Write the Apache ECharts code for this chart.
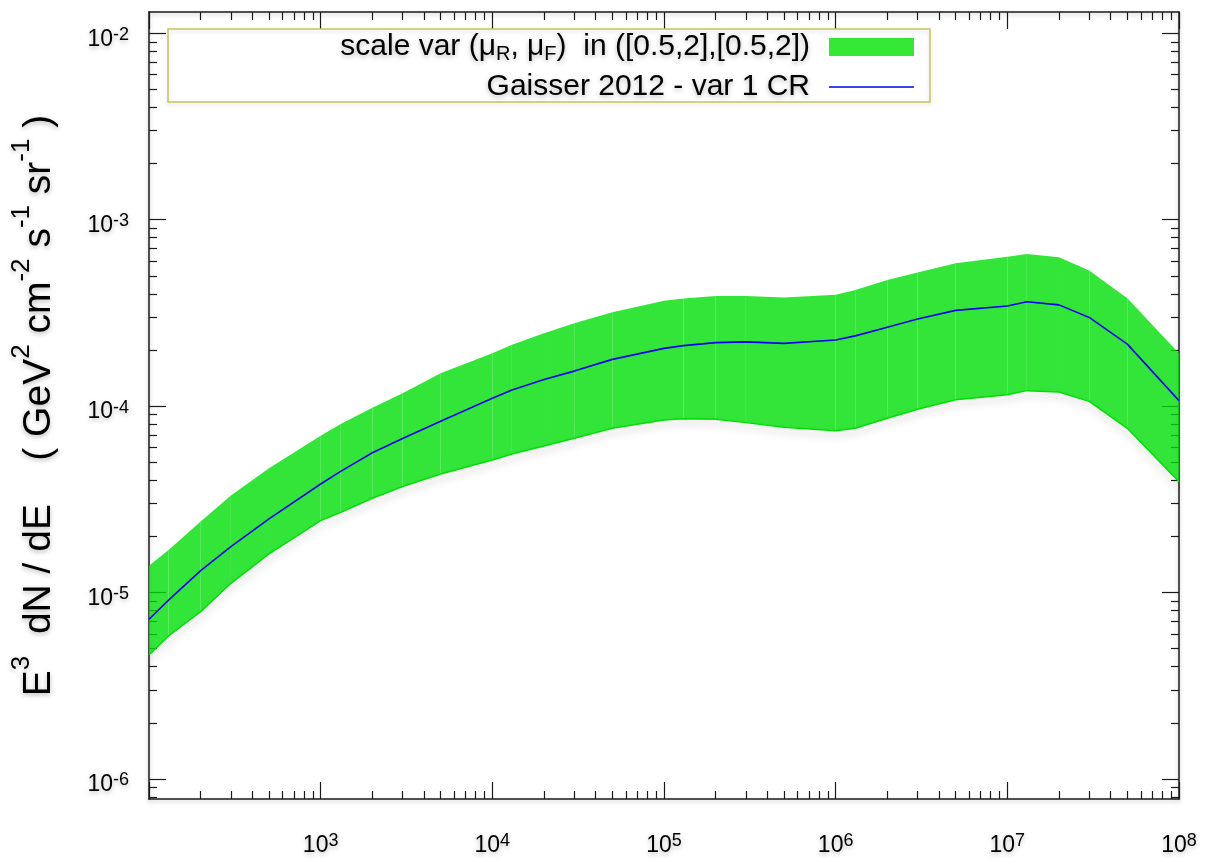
<!DOCTYPE html>
<html>
<head>
<meta charset="utf-8">
<script src="https://cdn.jsdelivr.net/npm/echarts@6/dist/echarts.min.js"></script>
<style>
  html, body { margin: 0; padding: 0; background: #ffffff; }
  #chart { width: 1206px; height: 867px; }
</style>
</head>
<body>
<div id="chart"></div>
<script>
// Energy grid (GeV) on which the flux was evaluated
const energy = [
  1e2, 1.3e2, 2e2, 3e2, 5e2,
  1e3, 1.3e3, 2e3, 3e3, 5e3,
  1e4, 1.3e4, 2e4, 3e4, 5e4,
  1e5, 1.3e5, 2e5, 3e5, 5e5,
  1e6, 1.3e6, 2e6, 3e6, 5e6,
  1e7, 1.3e7, 2e7, 3e7, 5e7,
  1e8
];

// E^3 dN/dE, central scale choice (Gaisser 2012, variant 1)
const central = [
  7.18e-6, 9.1e-6, 1.31e-5, 1.76e-5, 2.48e-5,
  3.82e-5, 4.45e-5, 5.62e-5, 6.7e-5, 8.3e-5,
  1.10e-4, 1.22e-4, 1.39e-4, 1.54e-4, 1.78e-4,
  2.04e-4, 2.11e-4, 2.19e-4, 2.21e-4, 2.17e-4,
  2.26e-4, 2.38e-4, 2.65e-4, 2.93e-4, 3.26e-4,
  3.44e-4, 3.63e-4, 3.49e-4, 2.99e-4, 2.15e-4,
  1.07e-4
];

// Envelope of the renormalisation / factorisation scale variation
const bandUpper = [
  1.39e-5, 1.69e-5, 2.40e-5, 3.31e-5, 4.64e-5,
  6.92e-5, 7.98e-5, 9.80e-5, 1.17e-4, 1.50e-4,
  1.92e-4, 2.13e-4, 2.46e-4, 2.78e-4, 3.19e-4,
  3.67e-4, 3.78e-4, 3.90e-4, 3.90e-4, 3.82e-4,
  3.95e-4, 4.20e-4, 4.75e-4, 5.20e-4, 5.84e-4,
  6.33e-4, 6.55e-4, 6.28e-4, 5.33e-4, 3.79e-4,
  1.92e-4
];
const bandLower = [
  4.62e-6, 5.84e-6, 7.89e-6, 1.12e-5, 1.61e-5,
  2.43e-5, 2.68e-5, 3.20e-5, 3.70e-5, 4.32e-5,
  5.14e-5, 5.53e-5, 6.11e-5, 6.72e-5, 7.60e-5,
  8.42e-5, 8.56e-5, 8.49e-5, 8.15e-5, 7.69e-5,
  7.38e-5, 7.60e-5, 8.61e-5, 9.61e-5, 1.08e-4,
  1.15e-4, 1.21e-4, 1.19e-4, 1.06e-4, 7.60e-5,
  3.93e-5
];

// Axis ranges and ticks
const xRange = [1e2, 1e8];
const yRange = [7.8e-7, 1.3e-2];
const xMajorTicks = [1e2, 1e3, 1e4, 1e5, 1e6, 1e7, 1e8];
const xTickLabels = [1e3, 1e4, 1e5, 1e6, 1e7, 1e8];
const yMajorTicks = [1e-6, 1e-5, 1e-4, 1e-3, 1e-2];
const yTickLabels = [1e-6, 1e-5, 1e-4, 1e-3, 1e-2];

const bandName = 'scale var (μR, μF)  in ([0.5,2],[0.5,2])';
const lineName = 'Gaisser 2012 - var 1 CR';

// 2..9 x 10^k minor ticks for each decade in [loExp, hiExp)
function decadeMinors(loExp, hiExp) {
  const out = [];
  for (let k = loExp; k < hiExp; k++) {
    for (let m = 2; m <= 9; m++) out.push(+(m * Math.pow(10, k)).toPrecision(3));
  }
  return out;
}
const xMinorTicks = decadeMinors(2, 8);
const yMinorTicks = decadeMinors(-7, -1);

// One quad per energy interval for the shaded envelope
const bandSegments = [];
for (let i = 0; i < energy.length - 1; i++) {
  bandSegments.push([energy[i], bandLower[i], bandUpper[i],
                     energy[i + 1], bandLower[i + 1], bandUpper[i + 1]]);
}
const centralPoints = energy.map((e, i) => [e, central[i]]);
const lowerEdgePoints = energy.map((e, i) => [e, bandLower[i]]);

const FONT = '"Liberation Sans", Arial, Helvetica, sans-serif';
const BAND_FILL = 'rgb(0,222,6)';
const shadow = {
  textShadowColor: 'rgba(0,0,0,0.28)',
  textShadowBlur: 5,
  textShadowOffsetY: 2
};
const frameLine = {
  color: '#1a1a1a', width: 1.5,
  shadowColor: 'rgba(0,0,0,0.25)', shadowBlur: 4, shadowOffsetY: 2
};

function powerLabel(v) {
  return '{b|10}{sup|' + Math.round(Math.log10(v)) + '}';
}
const labelRich = {
  b:   { fontSize: 23, lineHeight: 25, verticalAlign: 'bottom', fontFamily: FONT, color: '#000', ...shadow },
  sup: { fontSize: 18, lineHeight: 18, verticalAlign: 'top', fontFamily: FONT, color: '#000', ...shadow }
};

function xAxisDef(position, ticks, len, withLine, labels) {
  return {
    type: 'log', logBase: 10, position: position,
    min: xRange[0], max: xRange[1],
    axisLine: { show: withLine, lineStyle: frameLine },
    axisTick: { show: true, inside: true, length: len, customValues: ticks,
                lineStyle: { color: '#1a1a1a', width: 1.2 } },
    axisLabel: labels ? {
      show: true, customValues: labels, margin: 33,
      formatter: powerLabel, rich: labelRich
    } : { show: false },
    splitLine: { show: false }, minorTick: { show: false }
  };
}
function yAxisDef(position, ticks, len, withLine, labels, extra) {
  return Object.assign({
    type: 'log', logBase: 10, position: position,
    min: yRange[0], max: yRange[1],
    axisLine: { show: withLine, lineStyle: frameLine },
    axisTick: { show: true, inside: true, length: len, customValues: ticks,
                lineStyle: { color: '#1a1a1a', width: 1.2 } },
    axisLabel: labels ? {
      show: true, customValues: labels, margin: 20, padding: [10, 0, 0, 0],
      formatter: powerLabel, rich: labelRich
    } : { show: false },
    splitLine: { show: false }, minorTick: { show: false }
  }, extra || {});
}

const chart = echarts.init(document.getElementById('chart'), null, { renderer: 'canvas' });

chart.setOption({
  backgroundColor: '#ffffff',
  animation: false,
  grid: { left: 149, right: 27, top: 12, bottom: 68, outerBoundsMode: 'none', containLabel: false },
  graphic: [{
    type: 'rect', z: 1,
    shape: { x: 168, y: 29, width: 762, height: 73 },
    style: { fill: 'rgba(255,255,255,0)', stroke: '#c9c35b', lineWidth: 1.5,
             shadowColor: 'rgba(0,0,0,0.15)', shadowBlur: 4, shadowOffsetY: 2 }
  }],
  legend: {
    orient: 'vertical', align: 'right',
    right: 292, top: 32,
    itemWidth: 85, itemHeight: 18, itemGap: 8,
    padding: 0, selectedMode: false,
    data: [
      { name: bandName, icon: 'rect', itemStyle: { color: '#36e836' } },
      { name: lineName, icon: 'path://M0,0H85V1.6H0Z', itemStyle: { color: '#0000f0' } }
    ],
    formatter: function (name) {
      if (name === bandName) {
        return 'scale var (μ{s|R}, μ{s|F})  in ([0.5,2],[0.5,2])';
      }
      return name;
    },
    textStyle: {
      fontFamily: FONT, fontSize: 30, color: '#000', padding: [0, 14, 0, 0], ...shadow,
      rich: {
        s: { fontFamily: FONT, fontSize: 20, lineHeight: 34, verticalAlign: 'bottom', color: '#000', ...shadow }
      }
    }
  },
  xAxis: [
    xAxisDef('bottom', xMajorTicks, 17, true, xTickLabels),
    xAxisDef('bottom', xMinorTicks, 8, false, null),
    xAxisDef('top', xMajorTicks, 17, true, null),
    xAxisDef('top', xMinorTicks, 8, false, null)
  ],
  yAxis: [
    yAxisDef('left', yMajorTicks, 17, true, yTickLabels, {
      name: '{t|E}{u|3}{t|  dN / dE    ( GeV}{u|2}{t| cm}{u|-2}{t| s}{u|-1}{t| sr}{u|-1}{t| )}',
      nameLocation: 'middle', nameRotate: 90, nameGap: 90,
      nameTextStyle: {
        rich: {
          t: { fontFamily: FONT, fontSize: 39, lineHeight: 50, verticalAlign: 'bottom', color: '#000', ...shadow },
          u: { fontFamily: FONT, fontSize: 26, lineHeight: 26, verticalAlign: 'top', color: '#000', ...shadow }
        }
      }
    }),
    yAxisDef('left', yMinorTicks, 8, false, null),
    yAxisDef('right', yMajorTicks, 17, true, null),
    yAxisDef('right', yMinorTicks, 8, false, null)
  ],
  series: [
    {
      // soft drop shadow along the lower edge of the envelope
      name: 'envelope-shadow',
      type: 'line',
      data: lowerEdgePoints,
      symbol: 'none', silent: true, z: 1,
      lineStyle: { color: BAND_FILL, width: 1.5, shadowColor: 'rgba(0,0,0,0.35)', shadowBlur: 8, shadowOffsetY: 4 }
    },
    {
      name: bandName,
      type: 'custom',
      xAxisIndex: 0, yAxisIndex: 0,
      data: bandSegments,
      dimensions: ['e0', 'lo0', 'hi0', 'e1', 'lo1', 'hi1'],
      encode: { x: [0, 3], y: [1, 2, 4, 5] },
      itemStyle: { color: '#36e836' },
      silent: true,
      z: 2,
      renderItem: function (params, api) {
        const lo0 = api.coord([api.value(0), api.value(1)]);
        const hi0 = api.coord([api.value(0), api.value(2)]);
        const lo1 = api.coord([api.value(3), api.value(4)]);
        const hi1 = api.coord([api.value(3), api.value(5)]);
        return {
          type: 'polygon',
          shape: { points: [lo0, lo1, hi1, hi0] },
          style: { fill: BAND_FILL, opacity: 0.8 }
        };
      }
    },
    {
      name: lineName,
      type: 'line',
      xAxisIndex: 0, yAxisIndex: 0,
      data: centralPoints,
      symbol: 'none',
      smooth: false,
      z: 3,
      lineStyle: { color: '#0000f0', width: 1.6 },
      itemStyle: { color: '#0000f0' }
    }
  ]
});
</script>
</body>
</html>
